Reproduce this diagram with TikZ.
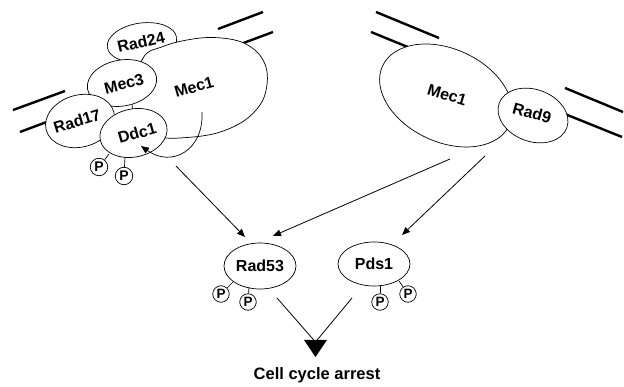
\documentclass[tikz,border=0pt]{standalone}
\usepackage{fontspec}
\setmainfont{Liberation Sans}
\usetikzlibrary{shapes.geometric,arrows.meta}
\tikzset{
  shp/.style={draw, fill=white, line width=0.7pt},
  prot/.style={draw, ellipse, fill=white, inner sep=0pt, line width=0.7pt, font=\bfseries\fontsize{16}{16}\selectfont},
  lbl/.style={inner sep=0pt, font=\bfseries\fontsize{16}{16}\selectfont},
  pc/.style={draw, circle, fill=white, inner sep=0pt, minimum size=16.5pt, line width=0.7pt, font=\bfseries\fontsize{13.5}{13.5}\selectfont},
  pcl/.style={pc, minimum size=17.5pt, font=\bfseries\fontsize{14}{14}\selectfont},
  stalk/.style={line width=0.7pt},
  dna/.style={line width=2.4pt, line cap=butt},
  arr/.style={line width=0.8pt, -{Triangle[length=8pt,width=6.5pt]}},
}
\begin{document}
\begin{tikzpicture}[x=1pt,y=-1pt]
\useasboundingbox (0,0) rectangle (624,387);
% DNA strands
\draw[dna] (13,110) -- (65,91);
\draw[dna] (20,132) -- (60,117);
\draw[dna] (218,29) -- (263,12);
\draw[dna] (230,48) -- (273,32);
\draw[dna] (376,12) -- (439,38);
\draw[dna] (371,32) -- (420,52);
\draw[dna] (565,88) -- (623,112);
\draw[dna] (550,108) -- (622,137);
% left complex shapes (back to front)
\draw[shp, rotate around={8:(142,42.5)}] (142,42.5) ellipse [x radius=35, y radius=19.5];
\draw[shp] plot[smooth cycle, tension=0.6] coordinates {(143,58) (163,46.5) (187,40) (213,37.5) (240,41.5) (258,53) (266.5,69) (266.5,88) (260,105) (243,121.5) (217,133) (187,137.5) (160,137) (140,125) (132,100)};
\draw[shp, rotate around={10:(122,83)}] (122,83) ellipse [x radius=35, y radius=23];
\draw[shp, rotate around={15:(80,121)}] (80,121) ellipse [x radius=35, y radius=26];
\draw[shp, rotate around={12:(133.5,133)}] (133.5,133) ellipse [x radius=34, y radius=24];
\node[lbl, rotate=13] (t24) at (141,42) {Rad24};
\node[lbl, rotate=16] (tm1a) at (194,87) {Mec1};
\node[lbl, rotate=14] (t3) at (124,84) {Mec3};
\node[lbl, rotate=17] (t17) at (77,121) {Rad17};
\node[lbl, rotate=16] (tddc) at (137,133) {Ddc1};
% curved arrow
\coordinate (cs) at (202,112);
\coordinate (ce) at (141,146);
\draw[line width=0.7pt, -{Triangle[length=8pt,width=6.5pt]}] (cs) .. controls (204,150) and (172,168) .. (ce);
% phosphates left
\node[pcl] (p1) at (99,167) {P};
\node[pcl] (p2) at (124,176) {P};
\coordinate (p1s) at (109,154);
\coordinate (p2s) at (125,157);
\draw[stalk] (p1) -- (p1s);
\draw[stalk] (p2) -- (p2s);
% right complex
\draw[shp, rotate around={-25:(446,95.5)}] (446,95.5) ellipse [x radius=70, y radius=46.5];
\draw[shp, rotate around={-20:(533,115.5)}] (533,115.5) ellipse [x radius=36, y radius=26];
\node[lbl, rotate=-17] (tm1b) at (447,95) {Mec1};
\node[lbl, rotate=-15] (t9) at (532,113) {Rad9};
% targets
\node[prot, minimum width=72pt, minimum height=46pt] (rad53) at (260,266) {Rad53};
\node[prot, minimum width=72pt, minimum height=44pt] (pds1) at (374,264) {Pds1};
\node[pc] (p3) at (221,294) {P};
\node[pc] (p4) at (248,302) {P};
\node[pc] (p5) at (380,302) {P};
\node[pc] (p6) at (408,294) {P};
\coordinate (p3s) at (233,282);
\coordinate (p4s) at (249,287);
\coordinate (p5s) at (380,286);
\coordinate (p6s) at (399,281);
\draw[stalk] (p3) -- (p3s);
\draw[stalk] (p4) -- (p4s);
\draw[stalk] (p5) -- (p5s);
\draw[stalk] (p6) -- (p6s);
% arrows
\coordinate (a1s) at (176,166);
\coordinate (a1e) at (245,237);
\coordinate (a2s) at (450,159);
\coordinate (a2e) at (273,236);
\coordinate (a3s) at (485,156);
\coordinate (a3e) at (402,235);
\draw[arr] (a1s) -- (a1e);
\draw[arr] (a2s) -- (a2e);
\draw[arr] (a3s) -- (a3e);
% convergence
\coordinate (v1) at (277,298);
\coordinate (v2) at (352,298);
\coordinate (vt) at (315.5,342);
\draw[line width=0.8pt] (v1) -- (vt) -- (v2);
\fill (304,340) -- (327,340) -- (315.5,357) -- cycle;
\node[font=\bfseries\fontsize{16.5}{16.5}\selectfont] (arrest) at (317,375) {Cell cycle arrest};
\end{tikzpicture}
\end{document}
